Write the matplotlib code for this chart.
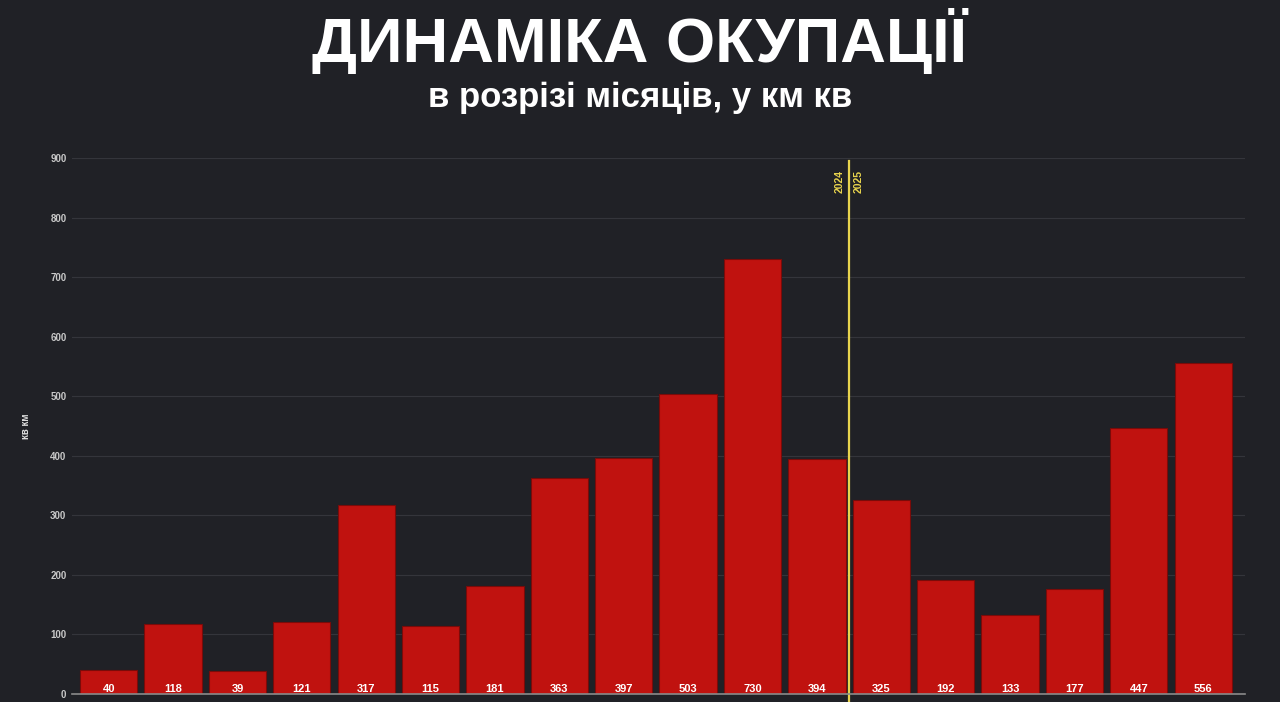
import matplotlib
matplotlib.use("Agg")
import matplotlib.pyplot as plt

values = [40, 118, 39, 121, 317, 115, 181, 363, 397, 503, 730, 394, 325, 192, 133, 177, 447, 556]
value_labels = [str(v) for v in values]
yticks = [0, 100, 200, 300, 400, 500, 600, 700, 800, 900]
title = "ДИНАМІКА ОКУПАЦІЇ"
subtitle = "в розрізі місяців, у км кв"
ylabel = "кв км"
year_split = 11.5
year_left, year_right = "2024", "2025"

bg = "#202126"
bar_color = "#c0120f"

plt.rcParams['font.family'] = ['Liberation Sans', 'DejaVu Sans']

fig = plt.figure(figsize=(12.8, 7.02), dpi=100, facecolor=bg)
ax = fig.add_axes([72/1280, 8/702, (1245-72)/1280, 536/702])
ax.set_facecolor(bg)

x = list(range(len(values)))
ax.bar(x, values, width=0.89, color=bar_color, edgecolor="#7a0b09", linewidth=0.8, zorder=3)

for xi, lab in zip(x, value_labels):
    ax.text(xi, 8, lab, ha='center', va='center', color='white', fontsize=8,
            fontweight='bold', zorder=5)

ax.set_xlim(-0.57, 17.65)
ax.set_ylim(0, 900)
ax.set_yticks(yticks)
ax.set_yticklabels([str(t) for t in yticks])
ax.tick_params(axis='y', colors='#c8c8c8', labelsize=7, length=0, pad=4)
ax.tick_params(axis='x', bottom=False, labelbottom=False)
for lab in ax.get_yticklabels():
    lab.set_fontweight('bold')
ax.grid(axis='y', color='#34353b', linewidth=0.8, zorder=0)
for s in ['top', 'right', 'left']:
    ax.spines[s].set_visible(False)
ax.spines['bottom'].set_color('#8a8a8a')
ax.spines['bottom'].set_linewidth(1.2)
ax.spines['bottom'].set_zorder(6)

ax.set_ylabel(ylabel, color='#dddddd', fontsize=7, fontweight='bold', labelpad=14)

ax.axvline(year_split, ymin=-0.02, ymax=0.995, color='#e8d44d', linewidth=1.6,
           clip_on=False, zorder=6)
ax.text(year_split - 0.15, 880, year_left, rotation=90, ha='center', va='top',
        color='#e8d44d', fontsize=7.5, fontweight='bold', zorder=6)
ax.text(year_split + 0.15, 880, year_right, rotation=90, ha='center', va='top',
        color='#e8d44d', fontsize=7.5, fontweight='bold', zorder=6)

fig.text(0.5, 1 - 42/702, title, ha='center', va='center', color='white',
         fontsize=45.5, fontweight='bold')
fig.text(0.5, 1 - 98/702, subtitle, ha='center', va='center', color='white',
         fontsize=25, fontweight='bold')

fig.savefig("out.png", dpi=100, facecolor=bg)
